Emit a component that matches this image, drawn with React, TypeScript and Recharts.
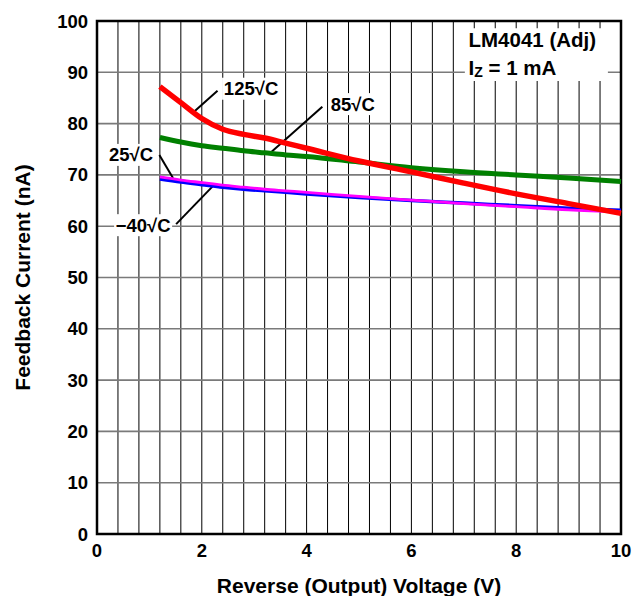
import React from 'react'
import {
  LineChart, Line, XAxis, YAxis, CartesianGrid, ReferenceLine,
  ReferenceDot, ReferenceArea,
} from 'recharts'

// reverse (output) voltage, V
const voltage = [1.2, 1.6, 2.0, 2.4, 2.8, 3.2, 3.6, 4, 5, 6, 7, 8, 9, 10]
// feedback current, nA
const temp125 = [87.2, 84.1, 81.0, 78.9, 77.9, 77.2, 76.2, 75.2, 72.7, 70.6, 68.4, 66.3, 64.4, 62.5]
const temp85 = [77.3, 76.4, 75.7, 75.2, 74.7, 74.3, 73.9, 73.6, 72.5, 71.4, 70.6, 70.0, 69.4, 68.7]
const temp25 = [69.6, 69.0, 68.5, 68.0, 67.6, 67.2, 66.9, 66.6, 65.8, 65.1, 64.4, 63.8, 63.2, 62.8]
const tempMinus40 = [69.2, 68.6, 68.1, 67.6, 67.2, 66.9, 66.6, 66.3, 65.6, 65.0, 64.5, 64.0, 63.5, 63.1]

const xTicks = [0, 2, 4, 6, 8, 10]
const xGridTicks = [0, 0.4, 0.8, 1.2, 1.6, 2, 2.4, 2.8, 3.2, 3.6, 4, 4.4, 4.8, 5.2, 5.6, 6, 6.4, 6.8, 7.2, 7.6, 8, 8.4, 8.8, 9.2, 9.6, 10]
const yTicks = [0, 10, 20, 30, 40, 50, 60, 70, 80, 90, 100]

// curve labels: text, anchor point, leader line start/end (data coords)
const curveLabels = [
  { text: '125√C', x: 2.94, y: 86.8, from: { x: 1.84, y: 82.2 }, to: { x: 2.3, y: 86.4 } },
  { text: '85√C', x: 4.88, y: 83.8, from: { x: 3.3, y: 74.2 }, to: { x: 4.3, y: 83.3 } },
  { text: '25√C', x: 0.65, y: 73.9, from: { x: 1.19, y: 73.9 }, to: { x: 1.45, y: 69.4 } },
  { text: '−40√C', x: 0.88, y: 60.2, from: { x: 1.51, y: 60.4 }, to: { x: 2.22, y: 67.9 } },
]

const data = voltage.map((v, i) => ({
  v,
  t125: temp125[i],
  t85: temp85[i],
  t25: temp25[i],
  tm40: tempMinus40[i],
}))

const FONT = '"Liberation Sans", Arial, Helvetica, sans-serif'

const boxLabel = (text: string) => (props: any) => {
  const { cx, cy } = props
  const w = text.length * 10.8 + 4
  return (
    <g>
      <rect x={cx - w / 2} y={cy - 11} width={w} height={22} fill="#fff" />
      <text x={cx} y={cy} textAnchor="middle" dominantBaseline="central"
        fontFamily={FONT} fontWeight="bold" fontSize={18.5} fill="#000">
        {text}
      </text>
    </g>
  )
}

const titleBox = (props: any) => {
  const { cx, cy } = props
  return (
    <g fontFamily={FONT} fontWeight="bold" fill="#000">
      <text x={cx} y={cy} dominantBaseline="central" fontSize={20.5}>LM4041 (Adj)</text>
      <text x={cx} y={cy + 28} dominantBaseline="central" fontSize={20.5}>
        I<tspan fontSize={14} dy={5}>Z</tspan><tspan dy={-5}> = 1 mA</tspan>
      </text>
    </g>
  )
}

export default function App() {
  return (
    <div style={{ position: 'absolute', left: 0, top: 0 }}>
      <LineChart
        width={634}
        height={596}
        data={data}
        margin={{ top: 21, right: 13, left: 0, bottom: 0 }}
        style={{ fontFamily: FONT }}
      >
        <CartesianGrid xAxisId="grid" horizontal={false} stroke="#000" strokeWidth={1} />
        <CartesianGrid vertical={false} stroke="#7a7a7a" strokeWidth={1.6} />
        <XAxis xAxisId="grid" dataKey="v" type="number" domain={[0, 10]} ticks={xGridTicks} interval={0} hide />
        <XAxis
          dataKey="v"
          type="number"
          domain={[0, 10]}
          ticks={xTicks}
          interval={0}
          height={62}
          tickLine={false}
          axisLine={false}
          tickSize={0}
          tickMargin={10}
          tick={{ fill: '#000', fontSize: 18.5, fontWeight: 'bold', fontFamily: FONT }}
          label={{
            value: 'Reverse (Output) Voltage (V)', position: 'insideBottom', offset: 3,
            style: { fill: '#000', fontSize: 21, fontWeight: 'bold', fontFamily: FONT },
          }}
        />
        <YAxis
          type="number"
          domain={[0, 100]}
          ticks={yTicks}
          width={97}
          tickLine={false}
          axisLine={false}
          tickSize={0}
          tickMargin={9}
          interval={0}
          tick={{ fill: '#000', fontSize: 18.5, fontWeight: 'bold', fontFamily: FONT }}
          label={{
            value: 'Feedback Current (nA)', angle: -90, position: 'insideLeft', offset: 23,
            style: { fill: '#000', fontSize: 21, fontWeight: 'bold', fontFamily: FONT, textAnchor: 'middle' },
          }}
        />

        <ReferenceArea x1={7.02} x2={9.75} y1={88.3} y2={98.6} fill="#fff" fillOpacity={1} stroke="none" />
        <ReferenceDot x={7.09} y={96.4} r={0} shape={titleBox} />

        {curveLabels.map(l => (
          <ReferenceLine key={'ll' + l.text} segment={[l.from, l.to]} stroke="#000" strokeWidth={2} />
        ))}
        {curveLabels.map(l => (
          <ReferenceDot key={'lb' + l.text} x={l.x} y={l.y} r={0} shape={boxLabel(l.text)} />
        ))}

        <Line dataKey="t85" type="monotone" stroke="#008000" strokeWidth={5} dot={false} isAnimationActive={false} />
        <Line dataKey="tm40" type="monotone" stroke="#0000ff" strokeWidth={3.5} dot={false} isAnimationActive={false} />
        <Line dataKey="t25" type="monotone" stroke="#ff00ff" strokeWidth={2.8} dot={false} isAnimationActive={false} />
        <Line dataKey="t125" type="monotone" stroke="#ff0000" strokeWidth={5.5} dot={false} isAnimationActive={false} />

        <ReferenceArea x1={0} x2={10} y1={0} y2={100} fill="none" stroke="#000" strokeWidth={2.5} />
      </LineChart>
    </div>
  )
}
